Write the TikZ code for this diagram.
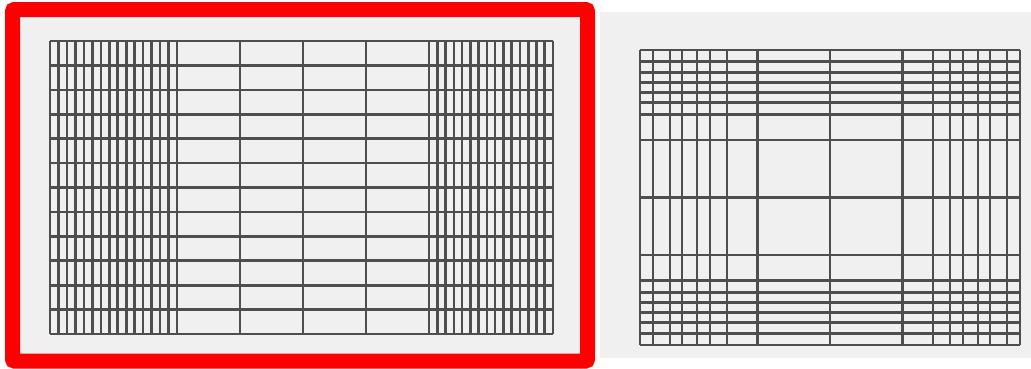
\documentclass[tikz,border=0pt]{standalone}
\definecolor{bggray}{RGB}{240,240,240}
\definecolor{linegray}{RGB}{78,78,78}
\definecolor{framered}{RGB}{255,0,0}
\begin{document}
\begin{tikzpicture}[x=1pt,y=-1pt,
  gridline/.style={draw=linegray, line width=2.6pt},
  frame/.style={draw=framered, line width=15pt, rounded corners=2pt}]
\useasboundingbox (0,0) rectangle (1031,368);
\fill[white] (0,0) rectangle (1031,368);
% backgrounds
\fill[bggray] (12,9) rectangle (588,361);
\fill[bggray] (600,12) rectangle (1031,358);
% left grid
\foreach \j in {0,...,12}{
  \draw[gridline] (50,41+\j*24.42) -- (553,41+\j*24.42);
}
\foreach \i in {0,...,15}{
  \draw[gridline] (50+\i*8.47,41) -- (50+\i*8.47,334);
  \draw[gridline] (429+\i*8.27,41) -- (429+\i*8.27,334);
}
\foreach \x in {240,303,366}{
  \draw[gridline] (\x,41) -- (\x,334);
}
% right grid
\foreach \d in {57.5,83,95,105,115,125,136,147.5}{
  \draw[gridline] (640,197.5-\d) -- (1020,197.5-\d);
  \draw[gridline] (640,197.5+\d) -- (1020,197.5+\d);
}
\draw[gridline] (640,197.5) -- (1020,197.5);
\foreach \d in {72.5,103,120,133,148,160,177,190}{
  \draw[gridline] (830-\d,50) -- (830-\d,345);
  \draw[gridline] (830+\d,50) -- (830+\d,345);
}
\draw[gridline] (830,50) -- (830,345);
% red frame
\draw[frame] (12.5,9.5) rectangle (587.5,361);
\end{tikzpicture}
\end{document}
